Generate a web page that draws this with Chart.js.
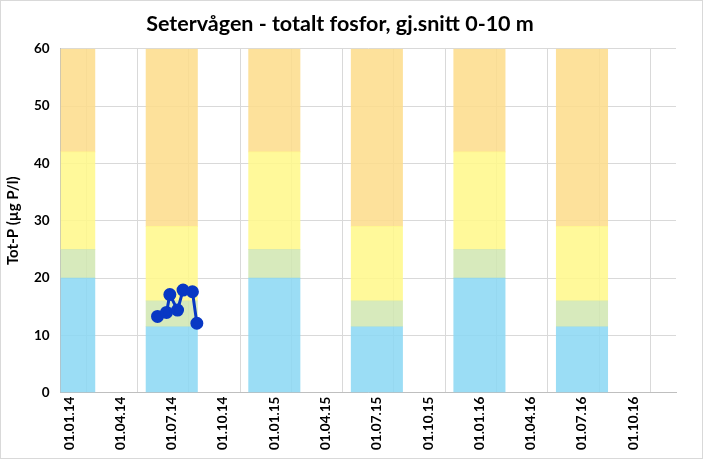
<!DOCTYPE html>
<html>
<head>
<meta charset="utf-8">
<script src="https://cdn.jsdelivr.net/npm/chart.js@4"></script>
<style>
  html, body { margin: 0; padding: 0; background: #fff; }
  #wrap { width: 703px; height: 459px; box-sizing: border-box; border: 1px solid #d9d9d9; }
</style>
</head>
<body>
<div id="wrap"><canvas id="chart" width="701" height="457"></canvas></div>
<script>
// x axis ticks (every 3 months from 01.01.14)
const xTickLabels = ['01.01.14', '01.04.14', '01.07.14', '01.10.14', '01.01.15', '01.04.15',
                     '01.07.15', '01.10.15', '01.01.16', '01.04.16', '01.07.16', '01.10.16'];

// class limit columns (centre dates) and upper limits of each band
const bandDates = ['2014-01-01', '2014-07-01', '2015-01-01', '2015-07-01', '2016-01-01', '2016-07-01'];
const blueTop   = [20, 11.5, 20, 11.5, 20, 11.5];
const greenTop  = [25, 16, 25, 16, 25, 16];
const yellowTop = [42, 29, 42, 29, 42, 29];
const orangeTop = [60, 60, 60, 60, 60, 60];

// measurements
const sampleDates = ['2014-06-21', '2014-07-07', '2014-07-13', '2014-07-27', '2014-08-06', '2014-08-23', '2014-08-31'];
const totP        = [13.3, 14.0, 17.1, 14.4, 17.9, 17.6, 12.1];

// months since 01.01.2014
function toMonths(s) {
  const [y, m, d] = s.split('-').map(Number);
  const dim = new Date(y, m, 0).getDate();
  return (y - 2014) * 12 + (m - 1) + (d - 1) / dim;
}

const bandX = bandDates.map(d => toMonths(d) + 0.5);  // middle of the month slot
function band(top, bottom) {
  return top.map((t, i) => ({ x: bandX[i], y: t - (bottom ? bottom[i] : 0) }));
}

const barOpts = { type: 'bar', barThickness: 51.4, borderWidth: 0, order: 1, stack: 'bands' };

new Chart(document.getElementById('chart'), {
  data: {
    datasets: [
      { ...barOpts, label: 'blue',   data: band(blueTop),              backgroundColor: 'rgba(137,215,243,0.85)' },
      { ...barOpts, label: 'green',  data: band(greenTop, blueTop),    backgroundColor: 'rgba(208,230,176,0.85)' },
      { ...barOpts, label: 'yellow', data: band(yellowTop, greenTop),  backgroundColor: 'rgba(255,248,136,0.85)' },
      { ...barOpts, label: 'orange', data: band(orangeTop, yellowTop), backgroundColor: 'rgba(253,220,137,0.85)' },
      {
        type: 'line',
        label: 'Tot-P',
        data: sampleDates.map((d, i) => ({ x: toMonths(d), y: totP[i] })),
        borderColor: '#0838C4',
        backgroundColor: '#0838C4',
        borderWidth: 3,
        pointRadius: 5,
        pointHoverRadius: 5,
        tension: 0,
        order: 0,
        stack: 'line'
      }
    ]
  },
  options: {
    responsive: false,
    animation: false,
    layout: { padding: { top: 4, right: 26, left: 3, bottom: 4 } },
    plugins: {
      legend: { display: false },
      tooltip: { enabled: false },
      title: {
        display: true,
        text: 'Setervågen - totalt fosfor, gj.snitt 0-10 m',
        color: '#000',
        font: { family: 'Lato', size: 21.5, weight: 'bold' },
        padding: { top: 6, bottom: 12 }
      }
    },
    scales: {
      x: {
        type: 'linear',
        min: 0,
        max: 36,
        offset: false,
        grid: { color: '#d9d9d9', drawTicks: false },
        border: { color: '#bfbfbf' },
        ticks: {
          stepSize: 3,
          autoSkip: false,
          minRotation: 90,
          maxRotation: 90,
          labelOffset: 8.6,
          padding: 4,
          color: '#000',
          font: { family: 'Lato', size: 13.5, weight: 'bold' },
          callback: v => xTickLabels[v / 3] || ''
        }
      },
      y: {
        stacked: true,
        min: 0,
        max: 60,
        grid: { color: '#d9d9d9', drawTicks: false },
        border: { color: '#bfbfbf' },
        ticks: {
          stepSize: 10,
          padding: 11,
          color: '#000',
          font: { family: 'Lato', size: 13.5, weight: 'bold' }
        },
        title: {
          display: true,
          text: 'Tot-P (µg P/l)',
          color: '#000',
          font: { family: 'Lato', size: 15, weight: 'bold' },
          padding: { top: 0, bottom: 1 }
        }
      }
    }
  }
});
</script>
</body>
</html>
